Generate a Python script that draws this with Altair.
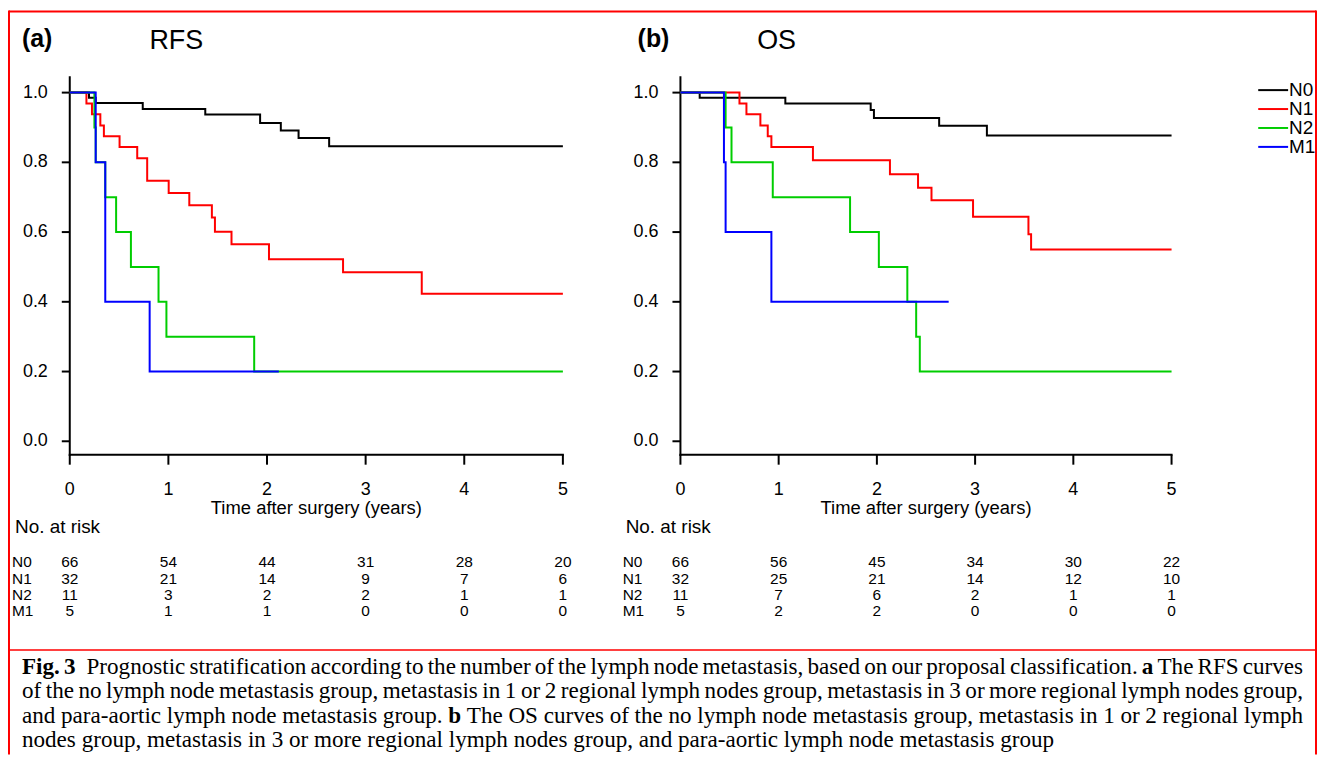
import altair as alt
import pandas as pd

# ---------------- data ----------------
groups = ["N0", "N1", "N2", "M1"]
colors = ["#000000", "#ff0000", "#00cd00", "#0000ff"]

# RFS (panel a) Kaplan-Meier steps: times (years) and survival
rfs_n0_t = [0, 0.195, 0.263, 0.74, 1.374, 1.93, 2.14, 2.32, 2.63, 5.0]
rfs_n0_s = [1.0, 0.985, 0.970, 0.953, 0.937, 0.913, 0.891, 0.870, 0.846, 0.846]
rfs_n1_t = [0, 0.169, 0.225, 0.31, 0.346, 0.505, 0.684, 0.785, 1.003, 1.212, 1.441, 1.472, 1.64, 2.02, 2.771, 3.569, 5.0]
rfs_n1_s = [1.0, 0.969, 0.938, 0.906, 0.875, 0.844, 0.812, 0.747, 0.712, 0.677, 0.642, 0.601, 0.565, 0.522, 0.485, 0.423, 0.423]
rfs_n2_t = [0, 0.25, 0.263, 0.36, 0.47, 0.62, 0.90, 0.98, 1.87, 5.0]
rfs_n2_s = [1.0, 0.9, 0.8, 0.7, 0.6, 0.5, 0.4, 0.3, 0.2, 0.2]
rfs_m1_t = [0, 0.263, 0.36, 0.81, 2.12]
rfs_m1_s = [1.0, 0.8, 0.4, 0.2, 0.2]

# OS (panel b)
os_n0_t = [0, 0.196, 1.068, 1.937, 1.97, 2.634, 3.12, 5.0]
os_n0_s = [1.0, 0.985, 0.969, 0.950, 0.927, 0.905, 0.877, 0.877]
os_n1_t = [0, 0.601, 0.672, 0.814, 0.889, 0.926, 1.349, 2.133, 2.419, 2.556, 2.979, 3.543, 3.570, 5.0]
os_n1_s = [1.0, 0.969, 0.938, 0.906, 0.875, 0.844, 0.806, 0.766, 0.727, 0.691, 0.644, 0.594, 0.55, 0.55]
os_n2_t = [0, 0.46, 0.52, 0.94, 1.727, 2.02, 2.31, 2.40, 2.437, 5.0]
os_n2_s = [1.0, 0.9, 0.8, 0.7, 0.6, 0.5, 0.4, 0.3, 0.2, 0.2]
os_m1_t = [0, 0.443, 0.46, 0.926, 2.731]
os_m1_s = [1.0, 0.8, 0.6, 0.4, 0.4]

x_ticks = [0, 1, 2, 3, 4, 5]
y_ticks = [0.0, 0.2, 0.4, 0.6, 0.8, 1.0]

# numbers at risk
rfs_risk = {"N0": [66, 54, 44, 31, 28, 20], "N1": [32, 21, 14, 9, 7, 6],
            "N2": [11, 3, 2, 2, 1, 1], "M1": [5, 1, 1, 0, 0, 0]}
os_risk = {"N0": [66, 56, 45, 34, 30, 22], "N1": [32, 25, 21, 14, 12, 10],
           "N2": [11, 7, 6, 2, 1, 1], "M1": [5, 2, 2, 0, 0, 0]}

caption_lines = [
    "**Fig.** **3** Prognostic stratification according to the number of the lymph node metastasis, based on our proposal classification. **a** The RFS curves",
    "of the no lymph node metastasis group, metastasis in 1 or 2 regional lymph nodes group, metastasis in 3 or more regional lymph nodes group,",
    "and para-aortic lymph node metastasis group. **b** The OS curves of the no lymph node metastasis group, metastasis in 1 or 2 regional lymph",
    "nodes group, metastasis in 3 or more regional lymph nodes group, and para-aortic lymph node metastasis group",
]

SANS = "Liberation Sans"
SERIF = "Liberation Serif"

# ---------------- helpers ----------------
Y_SCALE = alt.Scale(domain=[0, 1], range=[433.5, 83.5], nice=False, zero=False)
RISK_Y = alt.Scale(domain=[0, 3], range=[555, 604], nice=False, zero=False)
LEG_Y = alt.Scale(domain=[0, 3], range=[81, 138], nice=False, zero=False)


def xscale(rng):
    return alt.Scale(domain=[0, 5], range=rng, nice=False, zero=False)


def curve_df(ts, ss):
    return pd.DataFrame({"t": ts, "s": ss, "i": list(range(len(ts)))})


def panel(x0, x1, curves, risk, letter, name, letter_x, name_x):
    xs = xscale([x0, x1])
    dx = x0 - 62
    L = []
    one = pd.DataFrame({"a": [0]})
    # axes lines
    L.append(alt.Chart(one).mark_rule(color="black", strokeWidth=2).encode(
        x=alt.value(x0), y=alt.value(67), y2=alt.value(448)))
    L.append(alt.Chart(one).mark_rule(color="black", strokeWidth=2).encode(
        x=alt.value(x0 - 1), x2=alt.value(x1 + 1), y=alt.value(447)))
    tx = pd.DataFrame({"t": x_ticks})
    L.append(alt.Chart(tx).mark_rule(color="black", strokeWidth=2).encode(
        x=alt.X("t:Q", scale=xs, axis=None), y=alt.value(447), y2=alt.value(457)))
    L.append(alt.Chart(tx).mark_text(font=SANS, fontSize=18, baseline="middle", align="center").encode(
        x=alt.X("t:Q", scale=xs, axis=None), y=alt.value(482), text=alt.Text("t:Q")))
    ty = pd.DataFrame({"v": y_ticks})
    L.append(alt.Chart(ty).mark_rule(color="black", strokeWidth=2).encode(
        y=alt.Y("v:Q", scale=Y_SCALE, axis=None), x=alt.value(x0 - 8), x2=alt.value(x0)))
    L.append(alt.Chart(ty).mark_text(font=SANS, fontSize=18, baseline="middle", align="right").encode(
        y=alt.Y("v:Q", scale=Y_SCALE, axis=None), x=alt.value(x0 - 22), text=alt.Text("v:Q", format=".1f")))
    # axis title and risk header
    L.append(alt.Chart(pd.DataFrame({"s": ["Time after surgery (years)"]})).mark_text(
        font=SANS, fontSize=18.5, baseline="middle", align="center").encode(
        x=alt.value((x0 + x1) / 2), y=alt.value(501), text="s:N"))
    L.append(alt.Chart(pd.DataFrame({"s": ["No. at risk"]})).mark_text(
        font=SANS, fontSize=19, baseline="middle", align="left").encode(
        x=alt.value(7 + dx), y=alt.value(520), text="s:N"))
    # panel titles
    L.append(alt.Chart(pd.DataFrame({"s": [letter]})).mark_text(
        font=SANS, fontSize=25, fontWeight="bold", baseline="middle", align="left").encode(
        x=alt.value(letter_x), y=alt.value(30), text="s:N"))
    L.append(alt.Chart(pd.DataFrame({"s": [name]})).mark_text(
        font=SANS, fontSize=27, baseline="middle", align="left").encode(
        x=alt.value(name_x), y=alt.value(32), text="s:N"))
    # risk table
    rows = []
    for r, g in enumerate(groups):
        for t, n in zip(x_ticks, risk[g]):
            rows.append({"r": r, "t": t, "n": n})
    rdf = pd.DataFrame(rows)
    L.append(alt.Chart(rdf).mark_text(font=SANS, fontSize=15.5, baseline="middle", align="center").encode(
        x=alt.X("t:Q", scale=xs, axis=None), y=alt.Y("r:Q", scale=RISK_Y, axis=None), text="n:Q"))
    gdf = pd.DataFrame({"g": groups, "r": list(range(4))})
    L.append(alt.Chart(gdf).mark_text(font=SANS, fontSize=15.5, baseline="middle", align="left").encode(
        x=alt.value(4 + dx), y=alt.Y("r:Q", scale=RISK_Y, axis=None), text="g:N"))
    # curves
    for (ts, ss), c in zip(curves, colors):
        L.append(alt.Chart(curve_df(ts, ss)).mark_line(
            interpolate="step-after", color=c, strokeWidth=2, strokeCap="butt").encode(
            x=alt.X("t:Q", scale=xs, axis=None), y=alt.Y("s:Q", scale=Y_SCALE, axis=None),
            order=alt.Order("i:Q")))
    return L


layers = []
# frame
fr = pd.DataFrame({"a": [0]})
layers.append(alt.Chart(fr).mark_rule(color="#ff0000", strokeWidth=2).encode(
    x=alt.value(1), x2=alt.value(1313), y=alt.value(2)))
layers.append(alt.Chart(fr).mark_rule(color="#ff0000", strokeWidth=2).encode(
    x=alt.value(1), y=alt.value(1), y2=alt.value(748)))
layers.append(alt.Chart(fr).mark_rule(color="#ff0000", strokeWidth=2).encode(
    x=alt.value(1313), y=alt.value(1), y2=alt.value(748)))
layers.append(alt.Chart(fr).mark_rule(color="#ff0000", strokeWidth=1.5).encode(
    x=alt.value(1), x2=alt.value(1313), y=alt.value(643)))

layers += panel(62, 557,
                [(rfs_n0_t, rfs_n0_s), (rfs_n1_t, rfs_n1_s), (rfs_n2_t, rfs_n2_s), (rfs_m1_t, rfs_m1_s)],
                rfs_risk, "(a)", "RFS", 14, 142)
layers += panel(675, 1168,
                [(os_n0_t, os_n0_s), (os_n1_t, os_n1_s), (os_n2_t, os_n2_s), (os_m1_t, os_m1_s)],
                os_risk, "(b)", "OS", 632, 752)

# legend
ldf = pd.DataFrame({"g": groups, "r": list(range(4))})
cscale = alt.Scale(domain=groups, range=colors)
layers.append(alt.Chart(ldf).mark_rule(strokeWidth=2).encode(
    x=alt.value(1255), x2=alt.value(1285), y=alt.Y("r:Q", scale=LEG_Y, axis=None),
    color=alt.Color("g:N", scale=cscale, legend=None)))
layers.append(alt.Chart(ldf).mark_text(font=SANS, fontSize=19, baseline="middle", align="left").encode(
    x=alt.value(1286), y=alt.Y("r:Q", scale=LEG_Y, axis=None), text="g:N"))

# caption (justified with Times metrics)
REG = dict(a=444, b=500, c=444, d=500, e=444, f=333, g=500, h=500, i=278, j=278, k=500, l=278, m=778,
           n=500, o=500, p=500, q=500, r=333, s=389, t=278, u=500, v=500, w=722, x=500, y=500, z=444)
REG.update({"F": 556, "O": 722, "P": 556, "R": 667, "S": 556, "T": 611, "1": 500, "2": 500, "3": 500,
            ",": 250, ".": 250, "-": 333})
BOLD = {"F": 611, "i": 278, "g": 500, ".": 250, "3": 500, "a": 500, "b": 556}
FS = 23.2
SP = 250 * FS / 1000
LEFT, RIGHT = 14, 1300
baselines = [667, 691.5, 716, 740.5]
cap_rows = []
for li, line in enumerate(caption_lines):
    toks = []
    for w in line.split(" "):
        bold = w.startswith("**")
        word = w.strip("*")
        tab = BOLD if bold else REG
        toks.append((word, bold, sum(tab[ch] for ch in word) * FS / 1000))
    total = sum(t[2] for t in toks)
    extra = [0.0] * len(toks)
    if li == 0:
        extra[2] = 0.3 * FS  # wider gap after "Fig. 3"
    if li < 3:
        gap = (RIGHT - LEFT - total - sum(extra)) / (len(toks) - 1)
    else:
        gap = SP
    x = LEFT
    for k, (word, bold, wd) in enumerate(toks):
        x += extra[k]
        cap_rows.append({"w": word, "b": bold, "x": x, "y": baselines[li]})
        x += wd + gap
cdf = pd.DataFrame(cap_rows)
layers.append(alt.Chart(cdf[~cdf.b]).mark_text(font=SERIF, fontSize=FS, baseline="alphabetic", align="left").encode(
    x=alt.X("x:Q", scale=None), y=alt.Y("y:Q", scale=None), text="w:N"))
layers.append(alt.Chart(cdf[cdf.b]).mark_text(font=SERIF, fontSize=FS, fontWeight="bold",
                                              baseline="alphabetic", align="left").encode(
    x=alt.X("x:Q", scale=None), y=alt.Y("y:Q", scale=None), text="w:N"))

chart = alt.layer(*layers).resolve_scale(x="independent", y="independent", color="independent").properties(
    width=1314, height=748, autosize=alt.AutoSizeParams(type="none"), padding=0,
    background="white").configure_view(strokeWidth=0)

chart.save("out.html", embed_options={"renderer": "svg", "actions": False})
